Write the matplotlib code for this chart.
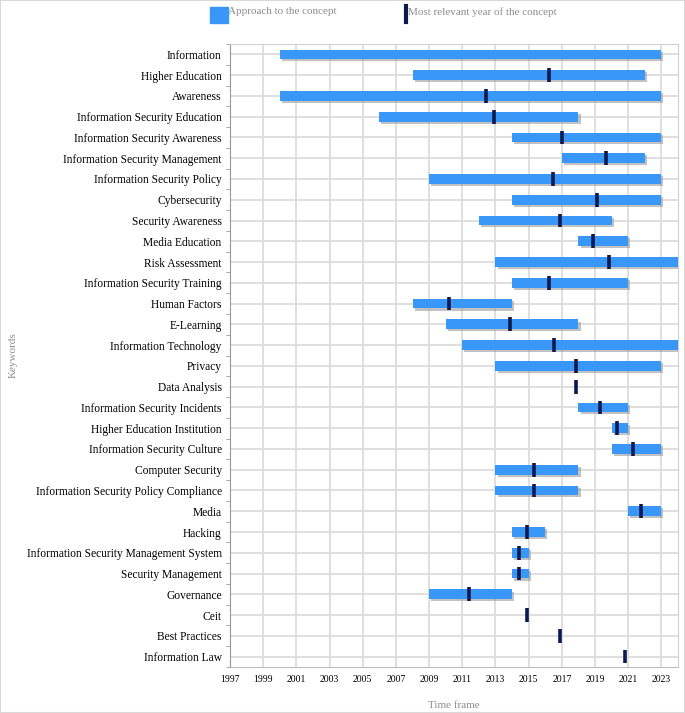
import numpy as np
import matplotlib
matplotlib.use("Agg")
import matplotlib.pyplot as plt
from matplotlib.patches import Rectangle
from matplotlib.lines import Line2D
import matplotlib.patheffects as pe

# Keywords, time span of the concept and most relevant year
keywords = [
    "Information", "Higher Education", "Awareness", "Information Security Education",
    "Information Security Awareness", "Information Security Management",
    "Information Security Policy", "Cybersecurity", "Security Awareness",
    "Media Education", "Risk Assessment", "Information Security Training",
    "Human Factors", "E-Learning", "Information Technology", "Privacy",
    "Data Analysis", "Information Security Incidents", "Higher Education Institution",
    "Information Security Culture", "Computer Security",
    "Information Security Policy Compliance", "Media", "Hacking",
    "Information Security Management System", "Security Management", "Governance",
    "Ceit", "Best Practices", "Information Law",
]
start_year = [2000, 2008, 2000, 2006, 2014, 2017, 2009, 2014, 2012, 2018,
              2013, 2014, 2008, 2010, 2011, 2013, None, 2018, 2020, 2020,
              2013, 2013, 2021, 2014, 2014, 2014, 2009, None, None, None]
end_year = [2023, 2022, 2023, 2018, 2023, 2022, 2023, 2023, 2020, 2021,
            2024, 2021, 2014, 2018, 2024, 2023, None, 2021, 2021, 2023,
            2018, 2018, 2023, 2016, 2015, 2015, 2014, None, None, None]
peak_year = [None, 2016.2, 2012.45, 2012.9, 2017.0, 2019.65, 2016.45, 2019.1, 2016.9, 2018.85,
             2019.85, 2016.2, 2010.2, 2013.9, 2016.5, 2017.85, 2017.85, 2019.3, 2020.3, 2021.3,
             2015.35, 2015.35, 2021.8, 2014.9, 2014.4, 2014.4, 2011.4, 2014.9, 2016.9, 2020.8]
year_ticks = list(range(1997, 2024, 2))

BLUE = "#3897f7"
NAVY = "#0b1a4e"
GRAY_TXT = "#8c8c8c"
GRID = "#dcdcdc"

plt.rcParams["font.family"] = ["Liberation Serif", "DejaVu Serif"]

fig = plt.figure(figsize=(6.85, 7.13), dpi=100)
ax = fig.add_axes([230 / 685, 1 - 667 / 713, 448 / 685, 623 / 713])

y = np.arange(len(keywords))
shadow = [pe.SimplePatchShadow(offset=(1.5, -1.5), shadow_rgbFace="#9a9a9a", alpha=0.6), pe.Normal()]
for yi, s, e in zip(y, start_year, end_year):
    if s is None:
        continue
    ax.barh(yi, e - s, left=s, height=0.47, color=BLUE, zorder=3, path_effects=shadow)

for yi, p in zip(y, peak_year):
    if p is None:
        continue
    ax.vlines(p, yi - 0.33, yi + 0.33, color=NAVY, lw=2.6, zorder=4)

ax.set_xlim(1997, 2024)
ax.set_ylim(len(keywords) - 0.5, -0.5)
ax.set_xticks(year_ticks)
ax.set_xticklabels([str(t) for t in year_ticks], fontsize=7)
ax.set_yticks(y)
ax.set_yticklabels(keywords, fontsize=8.3)
ax.set_yticks(np.arange(len(keywords) + 1) - 0.5, minor=True)
ax.tick_params(axis="y", which="major", length=0, pad=6)
ax.tick_params(axis="y", which="minor", length=3, color="#999999")
ax.tick_params(axis="x", length=0, pad=6)
ax.grid(True, color=GRID, lw=1.3, zorder=0)
ax.set_axisbelow(True)
for side in ["top", "right"]:
    ax.spines[side].set_color("#d0d0d0")
ax.spines["left"].set_color("#999999")
ax.spines["bottom"].set_color("#bdbdbd")

ax.set_xlabel("Time frame", fontsize=8, color=GRAY_TXT, labelpad=12)
ax.set_ylabel("Keywords", fontsize=8, color=GRAY_TXT)
ax.yaxis.set_label_coords(-0.475, 0.5)

# legend drawn by hand at the top
fig.patches.append(Rectangle((210 / 685, 1 - 23 / 713), 18 / 685, 16 / 713,
                             transform=fig.transFigure, color=BLUE))
fig.text(228 / 685, 1 - 12 / 713, "Approach to the concept", fontsize=8,
         color=GRAY_TXT, va="center", ha="left")
fig.lines.append(Line2D([405.5 / 685, 405.5 / 685], [1 - 22 / 713, 1 - 6 / 713],
                        transform=fig.transFigure, color=NAVY, lw=3))
fig.text(408 / 685, 1 - 12 / 713, "Most relevant year of the concept", fontsize=8,
         color=GRAY_TXT, va="center", ha="left")

# thin outer frame
fig.patches.append(Rectangle((0, 0), 1, 1, transform=fig.transFigure, fill=False,
                             edgecolor="#d8d8d8", lw=1.5))

fig.savefig("out.png", dpi=100)
